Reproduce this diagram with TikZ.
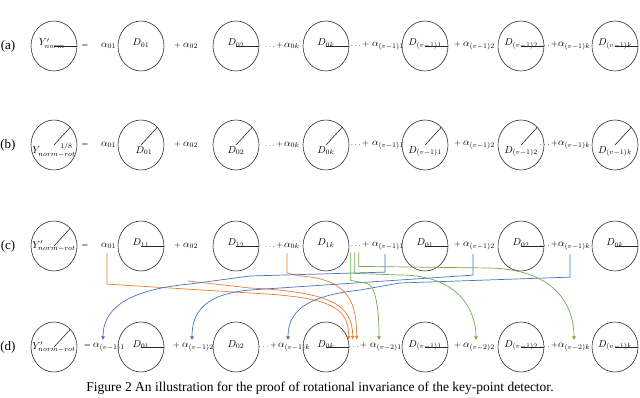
\documentclass[tikz,border=0pt]{standalone}
\usepackage{fontspec}
\setmainfont{Liberation Serif}
\usepackage{tikz}
\usetikzlibrary{arrows.meta,positioning,shapes.geometric}
\usepackage{xcolor}
\definecolor{orangecol}{RGB}{237,125,49}
\definecolor{bluecol}{RGB}{68,114,196}
\definecolor{greencol}{RGB}{112,173,71}
\tikzset{
  % key-point circle
  kcirc/.style={ellipse, draw=black!80, line width=0.6pt, minimum width=46pt, minimum height=50pt, inner sep=0pt, outer sep=0pt},
  % label sitting on a horizontal radius
  flat/.style={font=\fontsize{10}{12}\selectfont, inner sep=0pt, anchor=base},
  % label under a tilted radius
  tilt/.style={font=\fontsize{10}{12}\selectfont, inner sep=0pt, anchor=north},
  % radius mark
  radmark/.style={line width=0.6pt, black!85},
  % coefficient
  coef/.style={font=\fontsize{10}{12}\selectfont, inner sep=0pt, anchor=west},
  % operator in front of a coefficient
  oper/.style={font=\fontsize{8}{10}\selectfont, inner sep=0pt},
  % row label
  rowlabel/.style={font=\fontsize{13}{15}\selectfont, inner sep=0pt},
  % caption
  figcap/.style={font=\fontsize{13.5}{16}\selectfont, inner sep=0pt},
  % coefficient shift
  shiftarrow/.style={-{Triangle[length=3.5pt,width=3.5pt]}, line width=0.7pt, draw=#1},
  shiftarrow/.default={bluecol},
}
\begin{document}
\begin{tikzpicture}[x=1pt,y=-1pt]
  \useasboundingbox (0,0) rectangle (640,398);

  % Row (a)
  \node[rowlabel] (la) at (8,46) {(a)};
  \node[kcirc] (a0) at (54,46) {};
  \node[flat] (a0t) at ([xshift=-2pt]a0.center) {$Y'_{norm}$};
  \draw[radmark] (a0.center) -- (a0.east);
  \node[oper] (aeq) at (85,46) {$=$};
  \node[coef] (aa1) at (101,46) {$\alpha_{01}$};
  \node[kcirc] (a1) at (141,46) {};
  \node[flat] (a1t) at (a1.center) {$D_{01}$};
  \node[coef] (aa2) at (183,46) {$\alpha_{02}$};
  \node[oper, base left=2pt of aa2] (ap2) {$+$};
  \node[kcirc] (a2) at (236,46) {};
  \node[flat] (a2t) at (a2.center) {$D_{02}$};
  \draw[radmark] (a2.center) -- (a2.east);
  \node[coef] (aa3) at (284,46) {$\alpha_{0k}$};
  \node[oper, base left=1pt of aa3] (ap3) {$\ldots{+}$};
  \node[kcirc] (a3) at (326,46) {};
  \node[flat] (a3t) at (a3.center) {$D_{0k}$};
  \draw[radmark] (a3.center) -- (a3.east);
  \node[coef] (aa4) at (372,46) {$\alpha_{(v-1)1}$};
  \node[oper, base left=3pt of aa4] (ap4) {$\ldots{+}$};
  \node[kcirc] (a4) at (425,46) {};
  \node[flat] (a4t) at (a4.center) {$D_{(v-1)1}$};
  \draw[radmark] (a4.center) -- (a4.east);
  \node[coef] (aa5) at (463,46) {$\alpha_{(v-1)2}$};
  \node[oper, base left=2pt of aa5] (ap5) {$+$};
  \node[kcirc] (a5) at (521,46) {};
  \node[flat] (a5t) at (a5.center) {$D_{(v-1)2}$};
  \draw[radmark] (a5.center) -- (a5.east);
  \node[coef] (aa6) at (558,46) {$\alpha_{(v-1)k}$};
  \node[oper, base left=0pt of aa6] (ap6) {$\ldots{+}$};
  \node[kcirc] (a6) at (615,46) {};
  \node[flat] (a6t) at (a6.center) {$D_{(v-1)k}$};
  \draw[radmark] (a6.center) -- (a6.east);

  % Row (b)
  \node[rowlabel] (lb) at (8,145) {(b)};
  \node[kcirc] (b0) at (54,145) {};
  \node[tilt, anchor=center] (b0t) at ([yshift=-5pt]b0.center) {$Y_{norm-rot}^{\hphantom{norm}1/8}$};
  \draw[radmark] (b0.center) -- (b0.north east);
  \node[oper] (beq) at (85,145) {$=$};
  \node[coef] (ba1) at (101,145) {$\alpha_{01}$};
  \node[kcirc] (b1) at (141,145) {};
  \node[tilt] (b1t) at ([xshift=3pt,yshift=-1pt]b1.center) {$D_{01}$};
  \draw[radmark] (b1.center) -- (b1.north east);
  \node[coef] (ba2) at (183,145) {$\alpha_{02}$};
  \node[oper, base left=2pt of ba2] (bp2) {$+$};
  \node[kcirc] (b2) at (236,145) {};
  \node[tilt] (b2t) at ([yshift=-1pt]b2.center) {$D_{02}$};
  \draw[radmark] (b2.center) -- (b2.north east);
  \node[coef] (ba3) at (284,145) {$\alpha_{0k}$};
  \node[oper, base left=1pt of ba3] (bp3) {$\ldots{+}$};
  \node[kcirc] (b3) at (326,145) {};
  \node[tilt] (b3t) at ([yshift=-1pt]b3.center) {$D_{0k}$};
  \draw[radmark] (b3.center) -- (b3.north east);
  \node[coef] (ba4) at (372,145) {$\alpha_{(v-1)1}$};
  \node[oper, base left=3pt of ba4] (bp4) {$\ldots{+}$};
  \node[kcirc] (b4) at (425,145) {};
  \node[tilt] (b4t) at ([yshift=-1pt]b4.center) {$D_{(v-1)1}$};
  \draw[radmark] (b4.center) -- (b4.north east);
  \node[coef] (ba5) at (463,145) {$\alpha_{(v-1)2}$};
  \node[oper, base left=2pt of ba5] (bp5) {$+$};
  \node[kcirc] (b5) at (521,145) {};
  \node[tilt] (b5t) at ([yshift=-1pt]b5.center) {$D_{(v-1)2}$};
  \draw[radmark] (b5.center) -- (b5.north east);
  \node[coef] (ba6) at (558,145) {$\alpha_{(v-1)k}$};
  \node[oper, base left=0pt of ba6] (bp6) {$\ldots{+}$};
  \node[kcirc] (b6) at (615,145) {};
  \node[tilt] (b6t) at ([yshift=-1pt]b6.center) {$D_{(v-1)k}$};
  \draw[radmark] (b6.center) -- (b6.north east);

  % Row (c)
  \node[rowlabel] (lc) at (8,246) {(c)};
  \node[kcirc] (c0) at (54,246) {};
  \node[tilt, anchor=center] (c0t) at (c0.center) {$Y'_{norm-rot}$};
  \draw[radmark] (c0.center) -- (c0.north east);
  \node[oper] (ceq) at (85,246) {$=$};
  \node[coef] (ca1) at (101,246) {$\alpha_{01}$};
  \node[kcirc] (c1) at (141,246) {};
  \node[flat] (c1t) at (c1.center) {$D_{11}$};
  \draw[radmark] (c1.center) -- (c1.east);
  \node[coef] (ca2) at (183,246) {$\alpha_{02}$};
  \node[oper, base left=2pt of ca2] (cp2) {$+$};
  \node[kcirc] (c2) at (236,246) {};
  \node[flat] (c2t) at (c2.center) {$D_{12}$};
  \draw[radmark] (c2.center) -- (c2.east);
  \node[coef] (ca3) at (284,246) {$\alpha_{0k}$};
  \node[oper, base left=1pt of ca3] (cp3) {$\ldots{+}$};
  \node[kcirc] (c3) at (326,246) {};
  \node[flat] (c3t) at (c3.center) {$D_{1k}$};
  \node[coef] (ca4) at (372,246) {$\alpha_{(v-1)1}$};
  \node[oper, base left=3pt of ca4] (cp4) {$\ldots{+}$};
  \node[kcirc] (c4) at (425,246) {};
  \node[flat] (c4t) at (c4.center) {$D_{01}$};
  \draw[radmark] (c4.center) -- (c4.east);
  \node[coef] (ca5) at (463,246) {$\alpha_{(v-1)2}$};
  \node[oper, base left=2pt of ca5] (cp5) {$+$};
  \node[kcirc] (c5) at (521,246) {};
  \node[flat] (c5t) at (c5.center) {$D_{02}$};
  \draw[radmark] (c5.center) -- (c5.east);
  \node[coef] (ca6) at (558,246) {$\alpha_{(v-1)k}$};
  \node[oper, base left=0pt of ca6] (cp6) {$\ldots{+}$};
  \node[kcirc] (c6) at (615,246) {};
  \node[flat] (c6t) at (c6.center) {$D_{0k}$};
  \draw[radmark] (c6.center) -- (c6.east);

  % Row (d)
  \node[rowlabel] (ld) at (8,347) {(d)};
  \node[kcirc] (d0) at (54,347) {};
  \node[tilt, anchor=center] (d0t) at (d0.center) {$Y'_{norm-rot}$};
  \draw[radmark] (d0.center) -- (d0.north east);
  \node[coef] (da1) at (93,347) {$\alpha_{(v-1)1}$};
  \node[oper, base left=2pt of da1] (deq) {$=$};
  \node[kcirc] (d1) at (141,347) {};
  \node[flat] (d1t) at (d1.center) {$D_{01}$};
  \draw[radmark] (d1.center) -- (d1.east);
  \node[coef] (da2) at (182,347) {$\alpha_{(v-1)2}$};
  \node[oper, base left=2pt of da2] (dp2) {$+$};
  \node[kcirc] (d2) at (236,347) {};
  \node[flat] (d2t) at (d2.center) {$D_{02}$};
  \node[coef] (da3) at (278,347) {$\alpha_{(v-1)k}$};
  \node[oper, base left=1pt of da3] (dp3) {$\ldots{+}$};
  \node[kcirc] (d3) at (326,347) {};
  \node[flat] (d3t) at (d3.center) {$D_{0k}$};
  \draw[radmark] (d3.center) -- (d3.east);
  \node[coef] (da4) at (370,347) {$\alpha_{(v-2)1}$};
  \node[oper, base left=3pt of da4] (dp4) {$\ldots{+}$};
  \node[kcirc] (d4) at (425,347) {};
  \node[flat] (d4t) at (d4.center) {$D_{(v-1)1}$};
  \draw[radmark] (d4.center) -- (d4.east);
  \node[coef] (da5) at (463,347) {$\alpha_{(v-2)2}$};
  \node[oper, base left=2pt of da5] (dp5) {$+$};
  \node[kcirc] (d5) at (521,347) {};
  \node[flat] (d5t) at (d5.center) {$D_{(v-1)2}$};
  \draw[radmark] (d5.center) -- (d5.east);
  \node[coef] (da6) at (558,347) {$\alpha_{(v-2)k}$};
  \node[oper, base left=0pt of da6] (dp6) {$\ldots{+}$};
  \node[kcirc] (d6) at (615,347) {};
  \node[flat] (d6t) at (d6.center) {$D_{(v-1)k}$};
  \draw[radmark] (d6.center) -- (d6.east);

  % orange: alpha_0j move to the dots of (d)
  \coordinate (ostart) at (188,281);
  \draw[shiftarrow=orangecol] ([xshift=6pt,yshift=-4pt]ca1.south west) -- ++(0,31) -- (250,293)
    .. controls +(75,4) and +(0,-35) .. ([xshift=0pt,yshift=3pt]dp4.north west);
  \draw[shiftarrow=orangecol] (ostart) -- (250,288)
    .. controls +(80,4) and +(0,-35) .. ([xshift=4pt,yshift=3pt]dp4.north west);
  \draw[shiftarrow=orangecol] ([xshift=3pt,yshift=-4pt]ca3.south west) -- ++(0,20) -- (300,276)
    .. controls +(50,3) and +(0,-35) .. ([xshift=8pt,yshift=3pt]dp4.north west);

  % blue: alpha_(v-1)j move to the front
  \draw[shiftarrow=bluecol] ([xshift=13pt,yshift=-4pt]ca4.south west) -- ++(0,18) -- (250,276) -- (190,284)
    .. controls +(-65,6) and +(0,-30) .. ([xshift=10pt,yshift=3pt]da1.north west);
  \draw[shiftarrow=bluecol] ([xshift=10pt,yshift=-4pt]ca5.south west) -- ++(0,21) -- (250,290)
    .. controls +(-45,4) and +(0,-28) .. ([xshift=10pt,yshift=3pt]da2.north west);
  \draw[shiftarrow=bluecol] ([xshift=12pt,yshift=-4pt]ca6.south west) -- ++(0,23) -- (400,283) -- (360,290)
    .. controls +(-55,6) and +(0,-28) .. ([xshift=10pt,yshift=3pt]da3.north west);

  % green: the dots of (c) move to alpha_(v-2)j
  \draw[shiftarrow=greencol] ([xshift=0pt,yshift=-5pt]cp4.south west) -- ++(0,28) -- (365,283)
    .. controls +(12,0) and +(0,-25) .. ([xshift=9pt,yshift=3pt]da4.north west);
  \draw[shiftarrow=greencol] ([xshift=4pt,yshift=-5pt]cp4.south west) -- ++(0,21) -- (400,275)
    .. controls +(60,0) and +(0,-28) .. ([xshift=13pt,yshift=3pt]da5.north west);
  \draw[shiftarrow=greencol] ([xshift=8pt,yshift=-5pt]cp4.south west) -- ++(0,14) -- (490,268)
    .. controls +(70,2) and +(0,-30) .. ([xshift=16pt,yshift=3pt]da6.north west);

  % caption
  \node[figcap] (cap) at (320,388) {Figure 2 An illustration for the proof of rotational invariance of the key-point detector.};
\end{tikzpicture}
\end{document}
